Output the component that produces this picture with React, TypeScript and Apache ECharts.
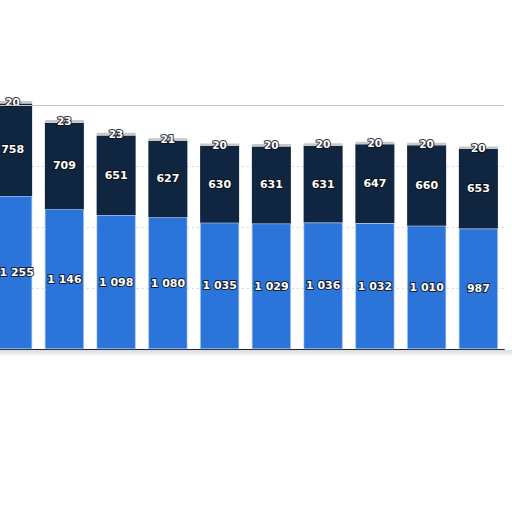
import { useEffect, useRef } from "react";
import * as echarts from "echarts";

const categories = ["2013", "2014", "2015", "2016", "2017", "2018", "2019", "2020", "2021", "2022"];
const blueValues = [1255, 1146, 1098, 1080, 1035, 1029, 1036, 1032, 1010, 987];
const navyValues = [758, 709, 651, 627, 630, 631, 631, 647, 660, 653];
const greyValues = [20, 23, 23, 21, 20, 20, 20, 20, 20, 20];
const yTicks = [0, 500, 1000, 1500, 2000];

const fmt = (v: number) => String(v).replace(/\B(?=(\d{3})+(?!\d))/g, " ");

const labelStyle = {
  show: true,
  position: "inside" as const,
  color: "#fff",
  fontFamily: "DejaVu Sans",
  fontWeight: "bold" as const,
  fontSize: 11,
  textBorderColor: "rgba(10,15,25,0.85)",
  textBorderWidth: 2,
  formatter: (p: any) => fmt(p.value),
};

export default function App() {
  const chartRef = useRef<HTMLDivElement>(null);

  useEffect(() => {
    if (!chartRef.current) return;
    const chart = echarts.init(chartRef.current, undefined, { renderer: "svg" });

    chart.setOption({
      animation: false,
      backgroundColor: "#fff",
      grid: { left: 26.75, right: 15.75, top: 105, bottom: 163 },
      graphic: [
        // soft shadow under the baseline, as in the photo
        {
          type: "rect",
          silent: true,
          z: -1,
          shape: { x: 40, y: 350, width: 520, height: 7 },
          style: {
            fill: new echarts.graphic.LinearGradient(0, 0, 0, 1, [
              { offset: 0, color: "rgba(0,0,0,0.14)" },
              { offset: 1, color: "rgba(0,0,0,0)" },
            ]),
          },
        },
      ],
      xAxis: {
        type: "category",
        data: categories,
        axisLine: { show: true, lineStyle: { color: "#1b2636", width: 1.2 } },
        axisTick: { show: false },
        axisLabel: { show: false },
      },
      yAxis: {
        type: "value",
        min: yTicks[0],
        max: yTicks[yTicks.length - 1],
        interval: 500,
        axisLabel: { show: false },
        axisLine: { show: false },
        axisTick: { show: false },
        splitLine: { lineStyle: { type: [2, 3], color: "#d6d6d6", width: 1 } },
      },
      series: [
        {
          name: "blue",
          type: "bar",
          stack: "total",
          data: blueValues.map((v, i) => (i === 0 ? { value: v, label: { offset: [4, 0] } } : v)),
          barCategoryGap: "24.6%",
          clip: false,
          itemStyle: { color: "#2b74da", borderColor: "#a9c8f0", borderWidth: 0.6 },
          label: labelStyle,
          markLine: {
            silent: true,
            symbol: "none",
            label: { show: false },
            lineStyle: { type: "solid", color: "#c4c4c4", width: 1.2 },
            data: [{ yAxis: 2000 }],
          },
        },
        {
          name: "navy",
          type: "bar",
          stack: "total",
          data: navyValues,
          clip: false,
          itemStyle: { color: "#10253f" },
          label: labelStyle,
        },
        {
          name: "grey",
          type: "bar",
          stack: "total",
          data: greyValues,
          clip: false,
          itemStyle: { color: "#c8c8c8" },
          label: { ...labelStyle, fontSize: 10.5 },
        },
      ],
    });

    return () => chart.dispose();
  }, []);

  return (
    <div style={{ position: "fixed", left: 0, top: 0, width: 512, height: 512, overflow: "hidden", background: "#fff" }}>
      <div ref={chartRef} style={{ position: "absolute", left: -40, top: 0, width: 560, height: 512 }} />
    </div>
  );
}
